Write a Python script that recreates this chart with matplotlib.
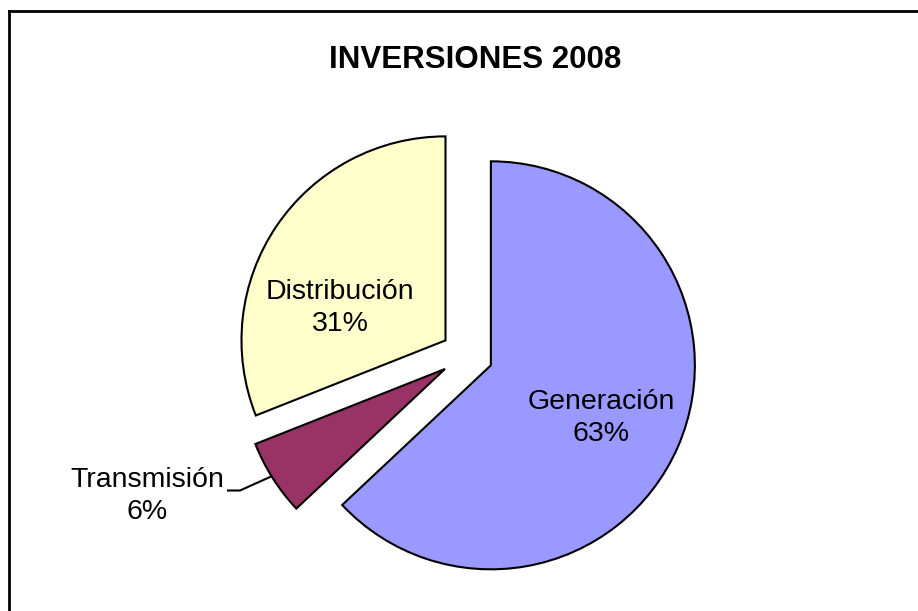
import matplotlib.pyplot as plt
from matplotlib.lines import Line2D

plt.rcParams['font.family'] = ['Liberation Sans', 'DejaVu Sans']

labels = ['Generación', 'Transmisión', 'Distribución']
values = [63, 6, 31]
colors = ['#9999FF', '#993366', '#FFFFCC']

W, H = 918, 611
fig = plt.figure(figsize=(W / 100, H / 100), dpi=100)
ax = fig.add_axes([0, 0, 1, 1])
ax.set_xlim(0, W)
ax.set_ylim(0, H)
ax.set_aspect('equal')
ax.axis('off')

# pie in pixel coordinates (y measured from bottom)
cx, cy, r = 467, H - 355, 204
wedges, _ = ax.pie(values, colors=colors, startangle=90, counterclock=False,
                   center=(cx, cy), radius=r, explode=[26, 26, 26],
                   wedgeprops=dict(edgecolor='black', linewidth=1.5))
ax.set_xlim(0, W)
ax.set_ylim(0, H)

fs = 20.5
ax.text(601, H - 418, f'{labels[0]}\n{values[0]}%', ha='center', va='center',
        fontsize=fs, linespacing=1.28)
ax.text(340, H - 308, f'{labels[2]}\n{values[2]}%', ha='center', va='center',
        fontsize=fs, linespacing=1.28)
ax.text(147, H - 496, f'{labels[1]}\n{values[1]}%', ha='center', va='center',
        fontsize=fs, linespacing=1.28)
ax.plot([228, 240, 270], [H - 490.5, H - 490.5, H - 477], color='black', lw=1.5)

ax.text(475, H - 60, 'INVERSIONES 2008', ha='center', va='center',
        fontsize=22.5, fontweight='bold')

# chart frame (only top and left edges visible)
fig.add_artist(Line2D([9 / W, 1], [1 - 10.5 / H, 1 - 10.5 / H], color='black', lw=2,
                      transform=fig.transFigure))
fig.add_artist(Line2D([9 / W, 9 / W], [0, 1 - 10.5 / H], color='black', lw=2,
                      transform=fig.transFigure))

fig.savefig('out.png', dpi=100)
